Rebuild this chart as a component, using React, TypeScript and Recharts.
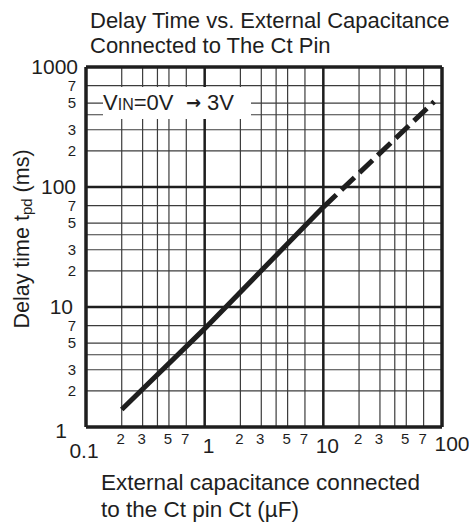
import React from 'react';
import {
  LineChart,
  Line,
  XAxis,
  YAxis,
  CartesianGrid,
  ReferenceLine
} from 'recharts';

// (log-log)
const solidCap = [0.2, 1, 10];
const solidDelay = [1.4, 6.6, 68];
const dashCap = [10, 86];
const dashDelay = [68, 515];

const xGrid = [0.1, 0.2, 0.3, 0.4, 0.5, 0.7, 1, 2, 3, 4, 5, 7, 10, 20, 30, 40, 50, 70, 100];
const yGrid = [1, 2, 3, 4, 5, 7, 10, 20, 30, 40, 50, 70, 100, 200, 300, 400, 500, 700, 1000];
const xMajor = [0.1, 1, 10, 100];
const yMajor = [1, 10, 100, 1000];
const minorLabels = ['2', '3', '5', '7'];

const solidData = solidCap.map((c, i) => ({ c, t: solidDelay[i] }));
const dashData = dashCap.map((c, i) => ({ c, t: dashDelay[i] }));

const FONT = '"Liberation Sans", Arial, sans-serif';
const INK = '#1e1e1e';

const digitOf = (v: number) => String(Math.round(v / Math.pow(10, Math.floor(Math.log10(v) + 1e-9))));

const XTick = (props: any) => {
  const { x, payload } = props;
  const v = payload.value;
  if (xMajor.includes(v)) {
    const label = v === 0.1 ? '0.1' : String(v);
    const dx = v === 0.1 ? -2 : v === 100 ? 10 : 4;
    const by = v === 0.1 ? 458 : v === 100 ? 451 : 453;
    return (
      <text x={x + dx} y={by} textAnchor="middle" fontSize={21} fontFamily={FONT} fill={INK}>
        {label}
      </text>
    );
  }
  const d = digitOf(v);
  if (!minorLabels.includes(d)) return null;
  return (
    <text x={x - 1} y={444} textAnchor="middle" fontSize={15} fontFamily={FONT} fill={INK}>
      {d}
    </text>
  );
};

const YTick = (props: any) => {
  const { y, payload } = props;
  const v = payload.value;
  if (yMajor.includes(v)) {
    const right = v === 1 ? 67 : v === 10 ? 73 : v === 100 ? 76 : 78;
    const dy = v === 1 ? 11 : 7;
    return (
      <text x={right} y={y + dy} textAnchor="end" fontSize={21} fontFamily={FONT} fill={INK}>
        {String(v)}
      </text>
    );
  }
  const d = digitOf(v);
  if (!minorLabels.includes(d)) return null;
  return (
    <text x={76} y={y + 5} textAnchor="end" fontSize={15} fontFamily={FONT} fill={INK}>
      {d}
    </text>
  );
};

export default function App() {
  return (
    <div style={{ position: 'absolute', left: 0, top: 0, width: 469, height: 529, background: '#fff' }}>
      <LineChart width={469} height={529} margin={{ top: 67, right: 27, bottom: 0, left: 0 }}>
        <CartesianGrid stroke="#3c3c3c" strokeWidth={1.2} />
        <XAxis
          type="number"
          dataKey="c"
          scale="log"
          domain={[0.1, 100]}
          ticks={xGrid}
          interval={0}
          allowDataOverflow
          height={102}
          axisLine={false}
          tickLine={false}
          tick={<XTick />}
        />
        <YAxis
          type="number"
          dataKey="t"
          scale="log"
          domain={[1, 1000]}
          ticks={yGrid}
          interval={0}
          allowDataOverflow
          width={86}
          axisLine={false}
          tickLine={false}
          tick={<YTick />}
        />
        {[1, 10].map((v) => (
          <ReferenceLine key={'x' + v} x={v} stroke={INK} strokeWidth={2.5} />
        ))}
        {[10, 100].map((v) => (
          <ReferenceLine key={'y' + v} y={v} stroke={INK} strokeWidth={2.5} />
        ))}
        <ReferenceLine x={0.1} stroke={INK} strokeWidth={3.5} ifOverflow="visible" />
        <ReferenceLine x={100} stroke={INK} strokeWidth={3.5} ifOverflow="visible" />
        <ReferenceLine y={1} stroke={INK} strokeWidth={3.5} ifOverflow="visible" />
        <ReferenceLine y={1000} stroke={INK} strokeWidth={3.5} ifOverflow="visible" />
        <Line data={solidData} dataKey="t" type="linear" stroke={INK} strokeWidth={5} dot={false} isAnimationActive={false} />
        <Line data={dashData} dataKey="t" type="linear" stroke={INK} strokeWidth={5} strokeDasharray="18 7" dot={false} isAnimationActive={false} />
      </LineChart>
      <svg width={469} height={529} style={{ position: 'absolute', left: 0, top: 0, pointerEvents: 'none' }}>
        <g fontFamily={FONT} fill={INK}>
          <text x={90} y={28} fontSize={22}>Delay Time vs. External Capacitance</text>
          <text x={90} y={53} fontSize={22}>Connected to The Ct Pin</text>
          <text x={101} y={490} fontSize={22.5}>External capacitance connected</text>
          <text x={101} y={517} fontSize={22.5}>to the Ct pin Ct (µF)</text>
          <text transform="translate(29,239) rotate(-90)" fontSize={21.5} textAnchor="middle">
            Delay time t<tspan fontSize={15} dy={3}>pd</tspan>
            <tspan dy={-3}> (ms)</tspan>
          </text>
          <rect x={103} y={87} width={148} height={32} fill="#fff" />
          <text x={103} y={110} fontSize={22}>
            V<tspan fontSize={16}>IN</tspan>=0V
          </text>
          <text x={186} y={109} fontSize={18} fontWeight="bold" fontFamily="DejaVu Sans">→</text>
          <text x={207} y={110} fontSize={22}>3V</text>
        </g>
      </svg>
    </div>
  );
}
